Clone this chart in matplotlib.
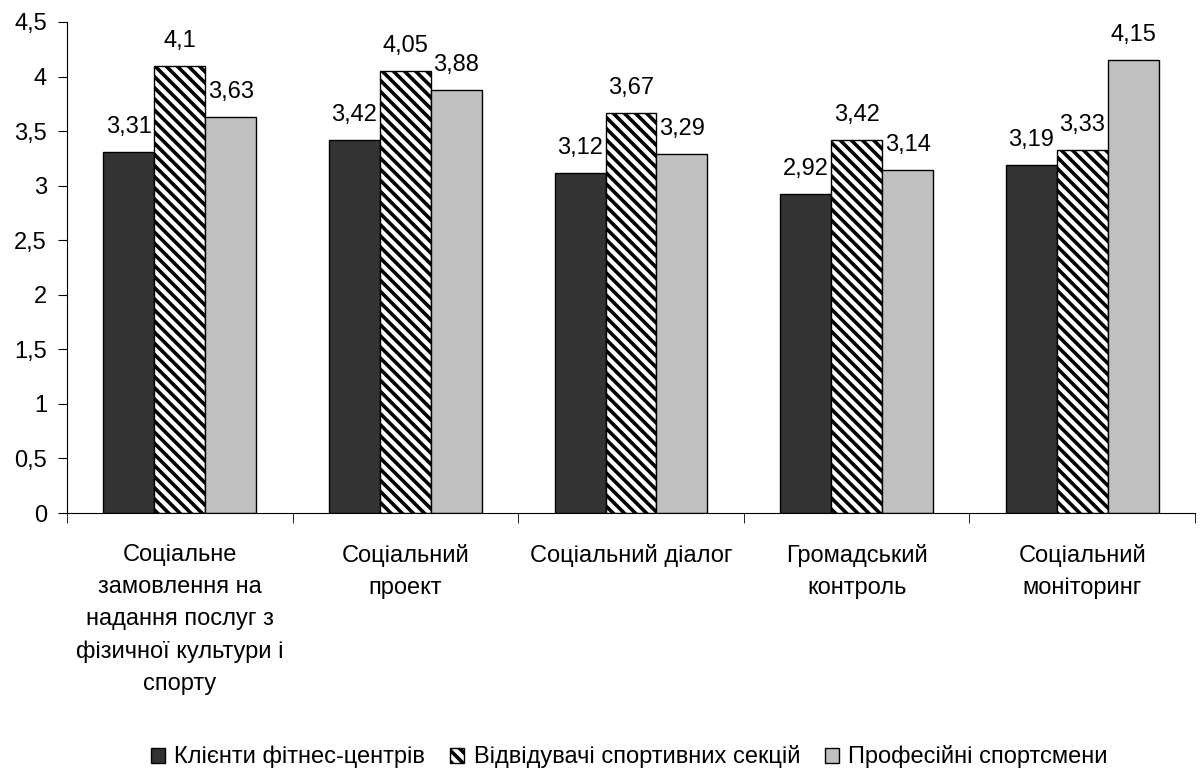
import numpy as np
import matplotlib.pyplot as plt
from matplotlib.ticker import FixedLocator, FuncFormatter

plt.rcParams['font.family'] = ['Liberation Sans', 'DejaVu Sans']
plt.rcParams['hatch.linewidth'] = 2.6

categories = ['Соціальне\nзамовлення на\nнадання послуг з\nфізичної культури і\nспорту',
              'Соціальний\nпроект',
              'Соціальний діалог',
              'Громадський\nконтроль',
              'Соціальний\nмоніторинг']
series_names = ['Клієнти фітнес-центрів', 'Відвідувачі спортивних секцій', 'Професійні спортсмени']
clients = [3.31, 3.42, 3.12, 2.92, 3.19]
visitors = [4.1, 4.05, 3.67, 3.42, 3.33]
athletes = [3.63, 3.88, 3.29, 3.14, 4.15]

fig = plt.figure(figsize=(12.01, 7.74), dpi=100)
ax = fig.add_axes([0.0558, 0.3372, 0.9392, 0.6344])

x = np.arange(len(categories))
w = 0.226
styles = [dict(color='#333333', hatch=None),
          dict(color='white', hatch='\\\\\\'),
          dict(color='#c0c0c0', hatch=None)]
for i, (vals, name, st) in enumerate(zip([clients, visitors, athletes], series_names, styles)):
    bars = ax.bar(x + (i - 1) * w, vals, w, color=st['color'], hatch=st['hatch'],
                  edgecolor='black', linewidth=1, label=name)
    for b, v in zip(bars, vals):
        ax.annotate(('%g' % v).replace('.', ','), (b.get_x() + b.get_width() / 2, v),
                    xytext=(0, 10), textcoords='offset points', ha='center', va='bottom',
                    fontsize=17)

ax.set_xlim(-0.5, len(categories) - 0.5)
ax.set_ylim(0, 4.5)
ax.set_yticks(np.arange(0, 4.51, 0.5))
ax.yaxis.set_major_formatter(FuncFormatter(lambda v, p: ('%g' % v).replace('.', ',')))
ax.set_xticks(x)
ax.set_xticklabels(categories, fontsize=17, linespacing=1.6, va='top')
ax.xaxis.set_minor_locator(FixedLocator(np.arange(-0.5, len(categories), 1.0)))
ax.tick_params(axis='x', which='major', length=0, pad=22)
ax.tick_params(axis='x', which='minor', length=7, direction='out')
ax.tick_params(axis='y', labelsize=17, length=6.5, pad=8, direction='out')
for s in ['top', 'right']:
    ax.spines[s].set_visible(False)

fig.legend(loc='center', bbox_to_anchor=(0.524, 0.022), ncol=3, frameon=False,
           fontsize=17, handlelength=0.6, handleheight=0.6, handletextpad=0.4,
           columnspacing=1.05)

fig.savefig('out.png', dpi=100)
